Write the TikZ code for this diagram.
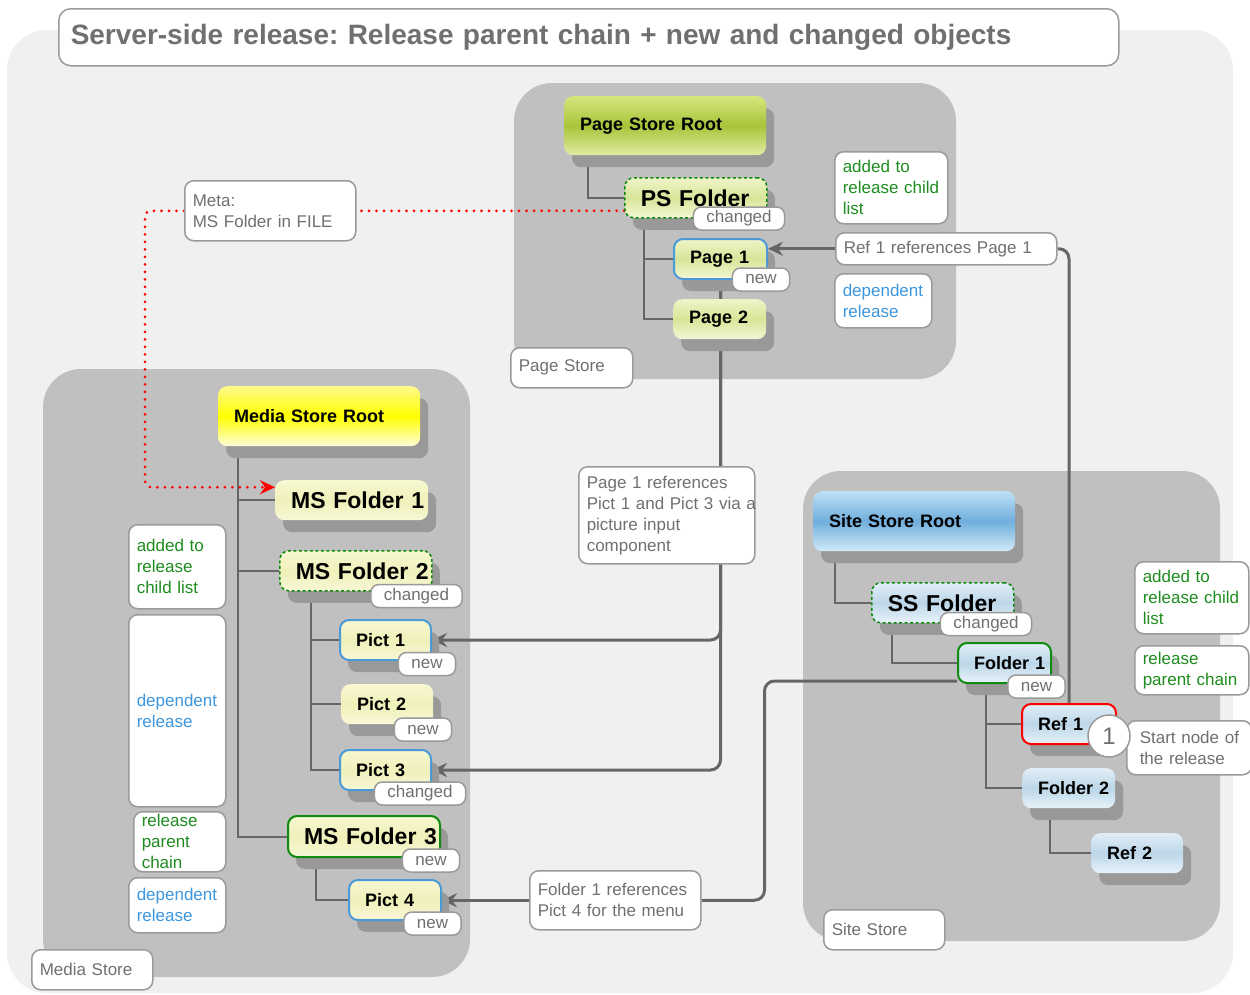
\documentclass[tikz,border=0pt]{standalone}
\usepackage{fontspec}
\setmainfont{Liberation Sans}
\usepackage{xcolor}
\usepackage{tikz}
\usetikzlibrary{arrows.meta, shadows}
\frenchspacing

\definecolor{bgout}{HTML}{F0F0F0}
\definecolor{bgstore}{HTML}{C0C0C0}
\definecolor{txtgray}{HTML}{707070}
\definecolor{linegray}{HTML}{666666}
\definecolor{boxgray}{HTML}{9A9A9A}
\definecolor{relgreen}{HTML}{1E8C1E}
\definecolor{relblue}{HTML}{3D97DE}
\definecolor{depblue}{HTML}{4A9AD8}
\definecolor{chaingreen}{HTML}{108A10}
% fills of the three stores
\definecolor{pstop}{HTML}{D6E67C}
\definecolor{psmid}{HTML}{A8C43A}
\definecolor{psbot}{HTML}{E0ECA4}
\definecolor{pgtop}{HTML}{EFF4C8}
\definecolor{pgmid}{HTML}{D8E598}
\definecolor{pgbot}{HTML}{F3F7D6}
\definecolor{mstop}{HTML}{FFF98C}
\definecolor{msmid}{HTML}{FFFF00}
\definecolor{msbot}{HTML}{FFFDDA}
\definecolor{mitop}{HTML}{F7F7D2}
\definecolor{mimid}{HTML}{F0F0BA}
\definecolor{mibot}{HTML}{F7F7D6}
\definecolor{sstop}{HTML}{BEE0F6}
\definecolor{ssmid}{HTML}{70AEDC}
\definecolor{ssbot}{HTML}{D0EAF8}
\definecolor{sitop}{HTML}{E2EEF7}
\definecolor{simid}{HTML}{BCD6E8}
\definecolor{sibot}{HTML}{E8F3FA}

\pgfdeclarelayer{regions}
\pgfdeclarelayer{links}
\pgfsetlayers{regions,links,main}

\begin{document}
\begin{tikzpicture}[
  x=1pt, y=-1pt,
  rootbox/.style={rectangle, rounded corners=9pt, anchor=north west,
               minimum width=202pt, minimum height=59pt, inner xsep=16pt,
               text width=170pt, align=left,
               font=\fontsize{18pt}{21pt}\selectfont\bfseries,
               drop shadow={shadow xshift=8pt, shadow yshift=-12pt, fill=black!40, opacity=1}},
  objbox/.style={rectangle, rounded corners=9pt, anchor=north west,
               minimum height=40pt, inner xsep=16pt, inner ysep=0pt,
               text width=#1, align=left,
               font=\fontsize{18pt}{21pt}\selectfont\bfseries,
               drop shadow={shadow xshift=8pt, shadow yshift=-12pt, fill=black!40, opacity=1}},
  big/.style={font=\fontsize{23pt}{26pt}\selectfont\bfseries},
  pgfill/.style={top color=pgtop, bottom color=pgbot, middle color=pgmid},
  mifill/.style={top color=mitop, bottom color=mibot, middle color=mimid},
  sifill/.style={top color=sitop, bottom color=sibot, middle color=simid},
  chainbox/.style={draw=chaingreen, line width=1.6pt, dash pattern=on 3pt off 2.5pt},
  childbox/.style={draw=chaingreen, line width=2pt},
  depbox/.style={draw=depblue, line width=2pt},
  startbox/.style={draw=red, line width=2pt},
  flag/.style={rectangle, rounded corners=8pt, draw=boxgray, line width=1.5pt,
               fill=white, text=txtgray, font=\fontsize{17pt}{17pt}\selectfont,
               minimum height=23pt, inner xsep=13pt, inner ysep=0pt},
  note/.style={rectangle, rounded corners=9pt, draw=boxgray, line width=1.5pt,
               fill=white, text=txtgray, font=\fontsize{17pt}{21pt}\selectfont,
               anchor=north west, align=left, inner xsep=8pt, inner ysep=2pt},
  green/.style={text=relgreen},
  blue/.style={text=relblue},
  branch/.style={draw=linegray, line width=2pt},
  refarr/.style={draw=linegray, line width=3pt, rounded corners=10pt},
  metaarr/.style={draw=red, line width=3pt, line cap=round,
               dash pattern=on 0pt off 7.5pt, rounded corners=6pt},
  tip/.style={-{Stealth[length=15pt, width=14pt, inset=5pt]}}
]
\useasboundingbox (0,0) rectangle (1250,994);

% ---- backgrounds of the stores ----
\begin{pgfonlayer}{regions}
\fill[white] (0,0) rectangle (1250,994);
\fill[bgout, rounded corners=40pt] (7,30) rectangle (1233,993);
\fill[bgstore, rounded corners=38pt] (514,83) rectangle (956,379);
\fill[bgstore, rounded corners=38pt] (43,369) rectangle (470,977);
\fill[bgstore, rounded corners=38pt] (803,471) rectangle (1220,941);
\end{pgfonlayer}

\node[note, rounded corners=12pt, minimum height=57pt, text width=1036pt, inner xsep=12pt,
      font=\fontsize{28pt}{30pt}\selectfont\bfseries] (title) at (58,8)
  {Server-side release: Release parent chain + new and changed objects};

% ---- Page Store ----
\node[rootbox, top color=pstop, bottom color=psbot, middle color=psmid] (psroot) at (564,96) {Page Store Root};
\node[objbox=110pt, big, pgfill, chainbox] (psfolder) at (624,177) {PS~Folder};
\node[objbox=61pt, pgfill, depbox] (page1) at (673,238) {Page~1};
\node[objbox=61pt, pgfill] (page2) at (673,299) {Page~2};
\node[note, text width=97pt, minimum height=72pt, green] (psadd) at (834,151) {added to\\release child\\list};
\node[note, text width=81pt, minimum height=54pt, blue] (psdep) at (834,273) {dependent\\release};
\node[note, text width=205pt, minimum height=32pt] (refnote) at (835,232) {Ref 1 references Page 1};
\node[note, text width=106pt, minimum height=40pt] (pslabel) at (510,347) {Page Store};

% ---- Media Store ----
\node[rootbox, top color=mstop, bottom color=msbot, middle color=msmid, minimum height=60pt] (msroot) at (218,386) {Media Store Root};
\node[objbox=121pt, big, mifill] (msf1) at (275,480) {MS~Folder~1};
\node[objbox=120pt, big, mifill, chainbox] (msf2) at (279,550) {MS~Folder~2};
\node[objbox=59pt, mifill, depbox] (pict1) at (339,619) {Pict~1};
\node[objbox=60pt, mifill] (pict2) at (341,684) {Pict~2};
\node[objbox=59pt, mifill, depbox] (pict3) at (339,749) {Pict~3};
\node[objbox=120pt, big, mifill, childbox, minimum height=41pt] (msf3) at (287,815) {MS~Folder~3};
\node[objbox=60pt, mifill, depbox] (pict4) at (348,879) {Pict~4};
\node[note, text width=81pt, minimum height=84pt, green] (msadd) at (128,524) {added to\\release\\child list};
\node[note, text width=81pt, minimum height=192pt, blue] (msdep) at (128,614) {dependent\\release};
\node[note, text width=76pt, minimum height=60pt, green, inner ysep=0pt] (mspar) at (133,811) {release\\parent\\chain};
\node[note, text width=81pt, minimum height=55pt, blue] (msdep2) at (128,877) {dependent\\release};
\node[note, text width=105pt, minimum height=40pt] (mslabel) at (31,949) {Media Store};

% ---- Site Store ----
\node[rootbox, top color=sstop, bottom color=ssbot, middle color=ssmid, minimum height=60pt] (ssroot) at (813,491) {Site Store Root};
\node[objbox=110pt, big, sifill, chainbox] (ssfolder) at (871,582) {SS~Folder};
\node[objbox=61pt, sifill, childbox] (folder1) at (957,642) {Folder~1};
\node[objbox=62pt, sifill, startbox] (ref1) at (1021,703) {Ref~1};
\node[objbox=61pt, sifill] (folder2) at (1022,768) {Folder~2};
\node[objbox=60pt, sifill] (ref2) at (1091,833) {Ref~2};
\node[note, text width=98pt, minimum height=72pt, green] (ssadd) at (1134,561) {added to\\release child\\list};
\node[note, text width=98pt, minimum height=49pt, green] (sspar) at (1134,645) {release\\parent chain};
\node[note, text width=105pt, minimum height=54pt, inner xsep=10pt] (startnote) at (1126,720) {\hspace*{3pt}Start node of\\\hspace*{3pt}the release};
\node[circle, draw=boxgray, line width=1.5pt, fill=white, text=txtgray, minimum size=42pt,
      inner sep=0pt, font=\fontsize{24pt}{24pt}\selectfont] (startmark) at (1109,736) {1};
\node[note, text width=105pt, minimum height=40pt] (sslabel) at (823,909) {Site Store};

% ---- notes on the references ----
\node[note, text width=160pt, minimum height=97pt] (p1note) at (578,466)
  {Page 1 references\\Pict~1~and~Pict~3~via~a\\picture input\\component};
\node[note, text width=155pt, minimum height=59pt] (f1note) at (529,870)
  {Folder 1 references\\Pict 4 for the menu};
\node[note, text width=155pt, minimum height=60pt] (meta) at (184,180)
  {Meta:\\MS Folder in FILE};

% ---- state flags ----
\node[flag] (psfolderflag) at (739,218.5) {changed};
\node[flag] (page1flag) at (761,279.5) {new};
\node[flag] (msf2flag) at (416.5,596) {changed};
\node[flag] (pict1flag) at (427,664) {new};
\node[flag] (pict2flag) at (423,729.5) {new};
\node[flag] (pict3flag) at (420,793.5) {changed};
\node[flag] (msf3flag) at (431,860.5) {new};
\node[flag] (pict4flag) at (432.5,923.5) {new};
\node[flag] (ssfolderflag) at (986,624) {changed};
\node[flag] (folder1flag) at (1036.5,686.5) {new};

% ---- tree lines and references ----
\begin{pgfonlayer}{links}
\draw[branch] ([xshift=24pt]psroot.south west) |- (psfolder.west);
\draw[branch] ([xshift=20pt]psfolder.south west) |- (page1.west);
\draw[branch] ([xshift=20pt]psfolder.south west) |- (page2.west);

\draw[branch] ([xshift=20pt]msroot.south west) |- (msf1.west);
\draw[branch] ([xshift=20pt]msroot.south west) |- (msf2.west);
\draw[branch] ([xshift=20pt]msroot.south west) |- (msf3.west);
\draw[branch] ([xshift=32pt]msf2.south west) |- (pict1.west);
\draw[branch] ([xshift=32pt]msf2.south west) |- (pict2.west);
\draw[branch] ([xshift=32pt]msf2.south west) |- (pict3.west);
\draw[branch] ([xshift=29pt]msf3.south west) |- (pict4.west);

\draw[branch] ([xshift=22pt]ssroot.south west) |- (ssfolder.west);
\draw[branch] ([xshift=21pt]ssfolder.south west) |- (folder1.west);
\draw[branch] ([xshift=29pt]folder1.south west) |- (ref1.west);
\draw[branch] ([xshift=29pt]folder1.south west) |- (folder2.west);
\draw[branch] ([xshift=28pt]folder2.south west) |- (ref2.west);

\draw[refarr] (ref1.north) |- (refnote.east);
\draw[refarr, tip] (refnote.west) -- (refnote.west -| page1.east);
\draw[refarr, tip] (page1.south) |- (pict1.east);
\draw[refarr, tip] (page1.south) |- (pict3.east);
\draw[refarr] ([yshift=3pt]folder1.south west) -| ([xshift=63pt]f1note.east) -- (f1note.east);
\draw[refarr, tip] (f1note.west) -- (f1note.west -| pict4.east);

\draw[metaarr] (psfolder.west |- meta.east) -- (meta.east);
\draw[metaarr, -{Stealth[length=15pt, width=14pt, inset=5pt, red]}] (meta.west) -- ++(-39,0) |- ([yshift=13pt]msf1.west);
\end{pgfonlayer}
\end{tikzpicture}
\end{document}
